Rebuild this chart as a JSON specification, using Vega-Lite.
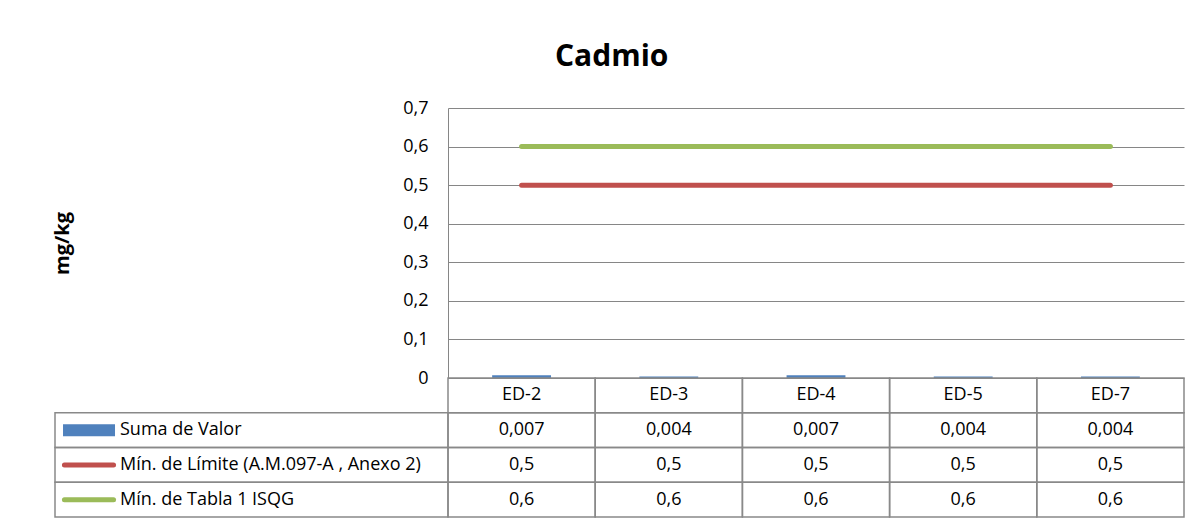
{
  "$schema": "https://vega.github.io/schema/vega-lite/v6.json",
  "autosize": {"type": "pad"},
  "padding": {"left": 52, "top": 42, "right": 17, "bottom": 4},
  "background": "white",
  "title": {"text": "Cadmio", "fontSize": 30, "font": "Open Sans", "fontWeight": "bold", "color": "black", "anchor": "start", "frame": "group", "offset": 27, "dx": 500},
  "datasets": {
    "cd": [
      {"punto": "ED-2", "valor": 0.007, "limite": 0.5, "isqg": 0.6},
      {"punto": "ED-3", "valor": 0.004, "limite": 0.5, "isqg": 0.6},
      {"punto": "ED-4", "valor": 0.007, "limite": 0.5, "isqg": 0.6},
      {"punto": "ED-5", "valor": 0.004, "limite": 0.5, "isqg": 0.6},
      {"punto": "ED-7", "valor": 0.004, "limite": 0.5, "isqg": 0.6}
    ],
    "series": [
      {"key": "valor", "label": "Suma de Valor"},
      {"key": "limite", "label": "Mín. de Límite (A.M.097-A , Anexo 2)"},
      {"key": "isqg", "label": "Mín. de Tabla 1 ISQG"}
    ]
  },
  "columns": 2,
  "spacing": 0,
  "bounds": "flush",
  "concat": [
    {
      "width": 393, "height": 270,
      "data": {"values": [{"a": 1}]},
      "mark": {"type": "text"},
      "encoding": {"text": {"value": ""}}
    },
    {
      "width": 736, "height": 270,
      "data": {"name": "cd"},
      "transform": [{"fold": ["valor", "limite", "isqg"], "as": ["key", "v"]}],
      "encoding": {
        "x": {"field": "punto", "type": "nominal", "sort": null, "scale": {"paddingInner": 0.6, "paddingOuter": 0.3}, "axis": null},
        "y": {"field": "v", "type": "quantitative", "title": "mg/kg",
          "scale": {"domain": [0, 0.7], "nice": false, "zero": true},
          "axis": {"values": [0, 0.1, 0.2, 0.3, 0.4, 0.5, 0.6, 0.7], "format": ".1~f", "labelOverlap": false, "grid": true, "gridColor": "#868686", "gridWidth": 1, "domainColor": "#868686", "domainWidth": 1, "ticks": false, "labelPadding": 20, "labelFontSize": 18, "labelColor": "black", "labelFont": "Open Sans", "titleFontSize": 20, "titleFont": "Open Sans", "titleFontWeight": "bold", "titleColor": "black", "titlePadding": 330}
        }
      },
      "layer": [
        {
          "transform": [{"filter": "datum.key === 'valor'"}],
          "mark": {"type": "bar", "color": "#4F81BD"}
        },
        {
          "transform": [{"filter": "datum.key !== 'valor'"}],
          "mark": {"type": "line", "strokeWidth": 5, "strokeCap": "round"},
          "encoding": {
            "color": {"field": "key", "type": "nominal", "scale": {"domain": ["valor", "limite", "isqg"], "range": ["#4F81BD", "#C0504D", "#9BBB59"]}, "legend": null}
          }
        }
      ]
    },
    {
      "width": 393, "height": 139,
      "data": {"name": "series"},
      "encoding": {
        "y": {"field": "key", "type": "nominal", "sort": null, "scale": {"domain": ["hdr", "valor", "limite", "isqg"], "paddingInner": 0, "paddingOuter": 0}, "axis": null}
      },
      "layer": [
        {
          "mark": {"type": "rect", "fill": "transparent", "stroke": "#898989", "strokeWidth": 1.5},
          "encoding": {
            "x": {"datum": 0, "type": "quantitative", "scale": {"domain": [0, 1], "nice": false, "zero": false}, "axis": null},
            "x2": {"datum": 1}
          }
        },
        {
          "transform": [{"filter": "datum.key === 'valor'"}],
          "mark": {"type": "rule", "strokeWidth": 12, "color": "#4F81BD", "strokeCap": "butt"},
          "encoding": {"x": {"datum": 0.0204, "type": "quantitative"}, "x2": {"datum": 0.1527}}
        },
        {
          "transform": [{"filter": "datum.key !== 'valor'"}],
          "mark": {"type": "rule", "strokeWidth": 5, "strokeCap": "round"},
          "encoding": {
            "x": {"datum": 0.024, "type": "quantitative"}, "x2": {"datum": 0.149},
            "color": {"field": "key", "type": "nominal", "scale": {"domain": ["valor", "limite", "isqg"], "range": ["#4F81BD", "#C0504D", "#9BBB59"]}, "legend": null}
          }
        },
        {
          "mark": {"type": "text", "align": "left", "baseline": "middle", "fontSize": 18, "font": "Open Sans", "color": "black"},
          "encoding": {"x": {"datum": 0.1654, "type": "quantitative"}, "text": {"field": "label"}}
        }
      ]
    },
    {
      "width": 736, "height": 139,
      "encoding": {
        "x": {"field": "punto", "type": "nominal", "sort": null, "scale": {"paddingInner": 0, "paddingOuter": 0}, "axis": null}
      },
      "layer": [
        {
          "data": {"name": "cd"},
          "mark": {"type": "rect", "fill": "transparent", "stroke": "#898989", "strokeWidth": 1.5},
          "encoding": {"y": {"datum": "hdr", "type": "nominal", "scale": {"domain": ["hdr", "valor", "limite", "isqg"], "paddingInner": 0, "paddingOuter": 0}, "axis": null}}
        },
        {
          "data": {"name": "cd"},
          "mark": {"type": "text", "fontSize": 18, "font": "Open Sans", "color": "black", "baseline": "middle"},
          "encoding": {"y": {"datum": "hdr", "type": "nominal"}, "text": {"field": "punto"}}
        },
        {
          "data": {"name": "cd"},
          "transform": [{"fold": ["valor", "limite", "isqg"], "as": ["key", "v"]}],
          "mark": {"type": "rect", "fill": "transparent", "stroke": "#898989", "strokeWidth": 1.5},
          "encoding": {"y": {"field": "key", "type": "nominal"}}
        },
        {
          "data": {"name": "cd"},
          "transform": [{"fold": ["valor", "limite", "isqg"], "as": ["key", "v"]}],
          "mark": {"type": "text", "fontSize": 18, "font": "Open Sans", "color": "black", "baseline": "middle"},
          "encoding": {"y": {"field": "key", "type": "nominal"}, "text": {"field": "v", "type": "quantitative", "format": ".3~f"}}
        }
      ]
    }
  ],
  "config": {
    "view": {"stroke": null},
    "font": "Open Sans",
    "locale": {"number": {"decimal": ",", "thousands": ".", "grouping": [3], "currency": ["", " €"]}}
  }
}
